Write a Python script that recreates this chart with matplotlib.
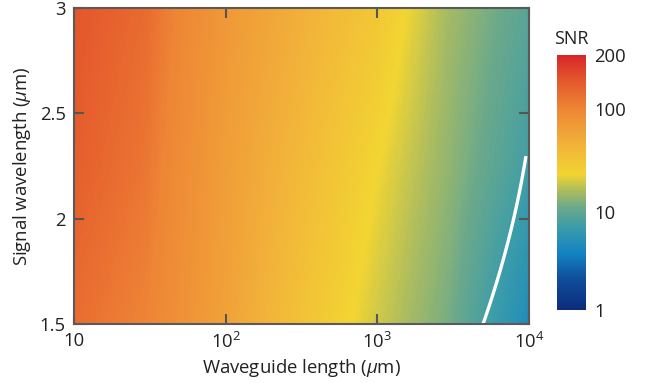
import numpy as np
import matplotlib
matplotlib.use("Agg")
import matplotlib.pyplot as plt
from matplotlib.colors import LinearSegmentedColormap

plt.rcParams["font.family"] = ["Open Sans", "DejaVu Sans"]
plt.rcParams["mathtext.fontset"] = "custom"
plt.rcParams["mathtext.rm"] = "Open Sans"
plt.rcParams["mathtext.it"] = "Open Sans:italic"
plt.rcParams["font.size"] = 13.3

lengths = [10, 30, 100, 300, 1000, 3000, 10000]
wavelengths = [1.5, 2.25, 3.0]
snr_15 = [120, 100, 60, 34, 19, 11.5, 4.5]
snr_225 = [135, 112, 64, 40, 23, 13.5, 7.3]
snr_30 = [144, 122, 71, 48, 30, 15, 9.1]

# white boundary line
line_len = [4970, 6430, 7260, 7940, 8710, 9550]
line_wl = [1.5, 1.742, 1.899, 2.0, 2.136, 2.297]

cbar_ticks = [1, 10, 100, 200]
cbar_labels = ["1", "10", "100", "200"]
cbar_pos = [0, 0.385, 0.79, 1]

cmap = LinearSegmentedColormap.from_list("snr", [
    (0.0, "#0c2c7e"),
    (0.12, "#0f4e9b"),
    (0.22, "#1384c2"),
    (0.32, "#3a9caa"),
    (0.40, "#6ca98a"),
    (0.47, "#b0be5c"),
    (0.53, "#f2d532"),
    (0.65, "#f2b23a"),
    (0.79, "#ee8535"),
    (0.90, "#e4562c"),
    (1.0, "#d8232a"),
])


def to_pos(v):
    return np.interp(np.log10(v), np.log10(cbar_ticks), cbar_pos)


# smooth field from the read values (log-log interpolation)
table = np.log10(np.array([snr_15, snr_225, snr_30]))
xf = np.logspace(1, 4, 400)
yf = np.linspace(1.5, 3.0, 120)
rows = np.array([np.interp(np.log10(xf), np.log10(lengths), r) for r in table])
field = np.array([np.interp(yv, wavelengths, rows[:, j]) for j in range(len(xf)) for yv in yf])
field = field.reshape(len(xf), len(yf)).T
pos = to_pos(10 ** field)

# smooth the boundary line through the read points
coef = np.polyfit(line_wl, np.log10(line_len), 2)
wl_s = np.linspace(line_wl[0], line_wl[-1], 60)
len_s = 10 ** np.polyval(coef, wl_s)

fig = plt.figure(figsize=(6.47, 3.83), dpi=100)
ax = fig.add_axes([0.1144, 0.154, 0.7032, 0.825])
ax.pcolormesh(xf, yf, pos, cmap=cmap, vmin=0, vmax=1, shading="auto", rasterized=True)
ax.plot(len_s, wl_s, color="white", lw=2.4, solid_capstyle="butt")

ax.set_xscale("log")
ax.set_xlim(10, 10000)
ax.set_ylim(1.5, 3)
ax.set_xticks([10, 100, 1000, 10000])
ax.set_xticklabels(["10", "$10^2$", "$10^3$", "$10^4$"])
ax.xaxis.set_minor_locator(matplotlib.ticker.NullLocator())
ax.set_yticks([1.5, 2, 2.5, 3])
ax.set_yticklabels(["1.5", "2", "2.5", "3"])
ax.tick_params(direction="in", length=7, width=1.5, color="#555555",
               top=True, right=True, labelcolor="#222222", pad=6)
for s in ax.spines.values():
    s.set_color("#5a5a5a")
    s.set_linewidth(1.5)
ax.set_xlabel(r"Waveguide length ($\mu$m)", labelpad=3, color="#222222")
ax.set_ylabel(r"Signal wavelength ($\mu$m)", labelpad=5, color="#222222")

# colorbar
cax = fig.add_axes([0.861, 0.1906, 0.0448, 0.6658])
grad = np.linspace(0, 1, 256).reshape(-1, 1)
cax.imshow(grad, cmap=cmap, vmin=0, vmax=1, origin="lower", aspect="auto",
           extent=[0, 1, 0, 1])
cax.set_xticks([])
cax.yaxis.tick_right()
cax.set_yticks(to_pos(cbar_ticks))
cax.set_yticklabels(cbar_labels)
cax.tick_params(axis="y", length=0, pad=6, labelcolor="#222222")
for s in cax.spines.values():
    s.set_visible(False)
cax.set_title("SNR", fontsize=13, pad=8, color="#222222")

fig.savefig("out.png", dpi=100)
